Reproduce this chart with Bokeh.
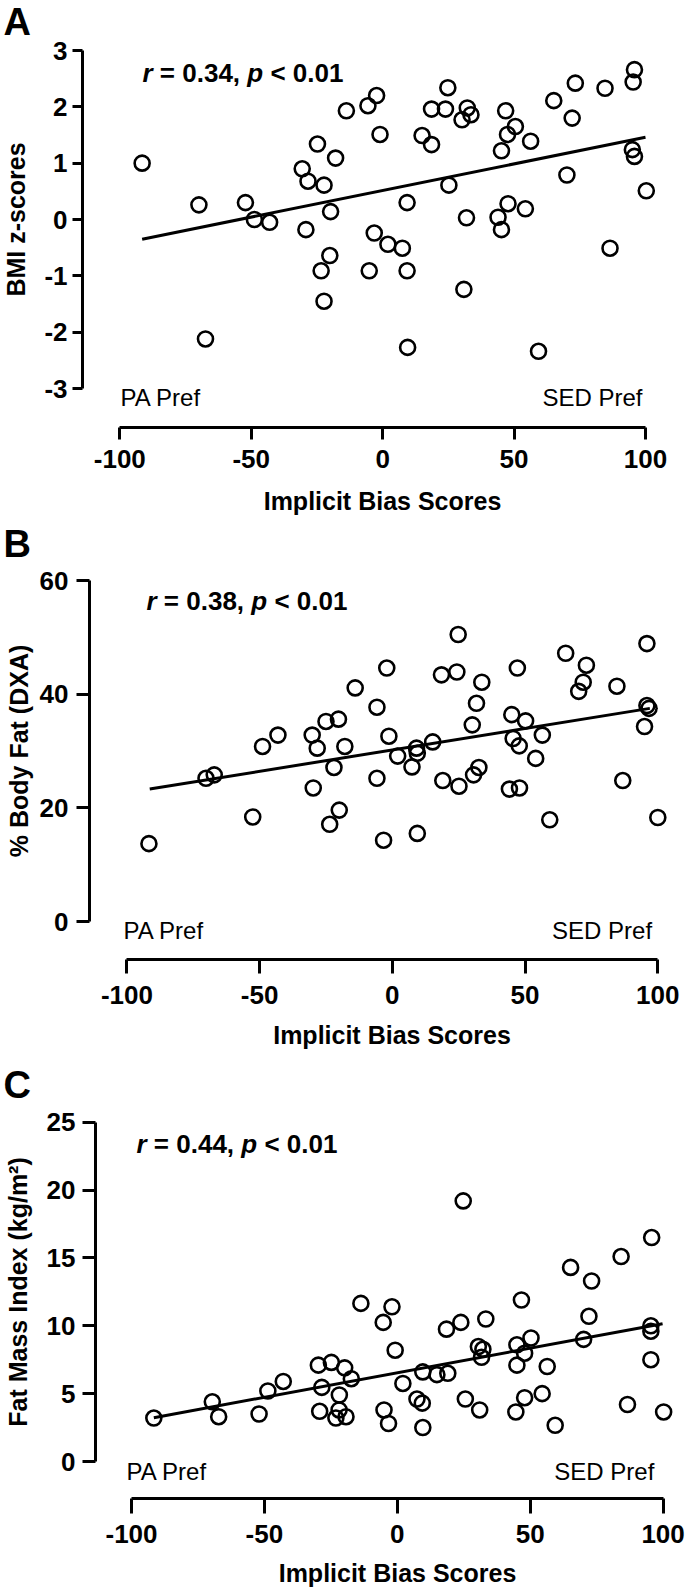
from bokeh.plotting import figure
from bokeh.models import Range1d, FixedTicker, Label
from bokeh.layouts import column
from bokeh.embed import file_html
from bokeh.resources import INLINE

FONT = "Liberation Sans"

# ---------------- data ----------------
x_ticks = [-100, -50, 0, 50, 100]
x_tick_labels = ["-100", "-50", "0", "50", "100"]
x_title = "Implicit Bias Scores"
pref_left_text = "PA Pref"
pref_right_text = "SED Pref"

# Panel A: BMI z-scores
a_x = [-91.5, -69.9, -67.4, -52.2, -48.8, -43.0, -30.6, -28.4, -29.2, -24.8,
       -22.3, -17.9, -19.8, -23.4, -20.1, -22.3, -13.8, -5.6, -2.3, -1.0,
       -3.2, -5.1, 2.0, 7.5, 9.3, 9.3, 9.5, 15.0, 18.6, 18.6,
       23.9, 24.8, 25.2, 30.2, 32.2, 33.6, 31.9, 30.9, 45.2, 46.8,
       47.5, 50.5, 56.3, 43.9, 45.2, 47.7, 54.3, 59.3, 65.1, 73.3,
       72.1, 70.1, 84.6, 86.5, 95.8, 95.3, 95.0, 95.8, 100.3]
a_y = [1.00, 0.26, -2.12, 0.30, 0.00, -0.05, 0.90, 0.68, -0.18, 1.34,
       0.61, 1.09, 0.14, -0.91, -0.64, -1.45, 1.93, 2.02, 2.20, 1.51,
       -0.24, -0.91, -0.44, -0.51, 0.30, -0.91, -2.27, 1.49, 1.33, 1.96,
       1.96, 2.34, 0.61, 1.77, 1.98, 1.86, 0.03, -1.24, 1.22, 1.93,
       1.51, 1.65, 1.39, 0.04, -0.18, 0.28, 0.19, -2.34, 2.11, 2.42,
       1.80, 0.79, 2.33, -0.51, 2.66, 2.44, 1.24, 1.12, 0.51]
a_fit_x = [-91.5, 100.0]
a_fit_y = [-0.35, 1.46]
a_y_ticks = [-3, -2, -1, 0, 1, 2, 3]
a_y_tick_labels = ["-3", "-2", "-1", "0", "1", "2", "3"]
a_y_title = "BMI z-scores"
a_stat = ["r", "= 0.34,", "p", "< 0.01"]

# Panel B: % body fat (DXA)
b_x = [-91.7, -70.2, -67.1, -52.6, -48.9, -43.1, -30.2, -28.3, -29.8, -25.0,
       -20.3, -22.0, -17.9, -20.0, -23.6, -14.0, -5.8, -5.8, -2.1, -1.3,
       -3.3, 2.0, 7.4, 9.1, 9.4, 9.4, 15.2, 18.5, 19.0, 24.3,
       24.8, 25.1, 30.1, 31.7, 33.7, 30.6, 32.6, 44.1, 47.9, 47.1,
       45.0, 50.2, 45.5, 47.8, 56.5, 54.0, 59.3, 65.3, 73.1, 71.9,
       70.2, 84.6, 86.8, 95.9, 95.9, 96.7, 95.0, 100.0]
b_y = [13.7, 25.2, 25.8, 18.4, 30.8, 32.8, 32.8, 30.5, 23.5, 35.2,
       35.6, 27.1, 30.8, 19.6, 17.1, 41.1, 37.7, 25.2, 44.6, 32.6,
       14.3, 29.1, 27.2, 30.5, 29.6, 15.5, 31.6, 43.4, 24.8, 43.9,
       50.5, 23.8, 34.6, 38.4, 42.1, 25.8, 27.1, 23.3, 23.5, 44.6,
       36.4, 35.3, 32.2, 30.9, 32.8, 28.7, 17.9, 47.2, 45.1, 42.1,
       40.5, 41.4, 24.8, 48.9, 38.0, 37.5, 34.3, 18.3]
b_fit_x = [-91.4, 97.0]
b_fit_y = [23.3, 37.5]
b_y_ticks = [0, 20, 40, 60]
b_y_tick_labels = ["0", "20", "40", "60"]
b_y_title = "% Body Fat (DXA)"
b_stat = ["r", "= 0.38,", "p", "< 0.01"]

# Panel C: fat mass index
c_x = [24.8, 95.7, 84.2, 65.2, 73.1, 46.7, -13.7, -2.0, 72.1, -5.3,
       23.9, 33.3, 18.5, 95.4, 95.4, 70.1, -0.8, 30.5, 32.2, 31.7,
       45.0, 50.3, 47.9, 45.0, 56.4, 95.4, -29.7, -24.8, -19.8, -17.3,
       -28.4, -42.9, -48.7, -69.6, -67.2, -91.6, -52.0, -29.2, -21.8, -21.9,
       -23.1, -19.3, 2.1, 9.6, 14.9, 19.0, -5.0, -3.3, 7.4, 9.4,
       9.6, 25.6, 31.0, 44.6, 47.9, 54.5, 59.4, 86.6, 100.2]
c_y = [19.2, 16.5, 15.1, 14.3, 13.3, 11.9, 11.65, 11.4, 10.7, 10.25,
       10.25, 10.5, 9.75, 10.0, 9.6, 9.0, 8.2, 8.47, 8.27, 7.68,
       8.6, 9.1, 7.98, 7.1, 7.0, 7.5, 7.1, 7.3, 6.9, 6.1,
       5.46, 5.9, 5.2, 4.4, 3.3, 3.2, 3.5, 3.7, 4.9, 3.8,
       3.2, 3.3, 5.75, 6.6, 6.4, 6.5, 3.8, 2.8, 4.6, 4.3,
       2.5, 4.6, 3.8, 3.65, 4.7, 5.0, 2.67, 4.2, 3.65]
c_fit_x = [-91.6, 99.8]
c_fit_y = [3.23, 10.15]
c_y_ticks = [0, 5, 10, 15, 20, 25]
c_y_tick_labels = ["0", "5", "10", "15", "20", "25"]
c_y_title = "Fat Mass Index (kg/m\u00b2)"
c_stat = ["r", "= 0.44,", "p", "< 0.01"]

# ---------------- layout (page pixels) ----------------
PAGE_W = 685
MARGIN = 0   # Bokeh's page template sets the body margin to 0


def make_panel(letter, xs, ys, fx, fy, yt, ytl, ytitle, stat, L):
    sx = (L["xp"] - L["xm"]) / 200.0
    ymax, ymin = yt[-1], yt[0]
    sy = (L["yp1"] - L["yp0"]) / float(ymax - ymin)

    def dx(px):
        return -100 + (px - L["xm"]) / sx

    def dy(py):
        return ymax - (py - L["yp0"]) / sy

    # the frame fills the whole canvas; axes are pinned inside it
    p = figure(width=PAGE_W, height=L["h"],
               x_range=Range1d(dx(MARGIN), dx(MARGIN + PAGE_W)),
               y_range=Range1d(dy(L["top"] + L["h"]), dy(L["top"])),
               output_backend="svg", toolbar_location=None,
               min_border=0, min_border_left=0, min_border_right=0,
               min_border_top=0, min_border_bottom=0)
    p.grid.visible = False
    p.outline_line_color = None
    p.background_fill_color = "white"
    p.border_fill_color = "white"

    for ax, ticks, labels, tl in ((p.xaxis[0], x_ticks, x_tick_labels, L["tx"]),
                                  (p.yaxis[0], yt, ytl, L["ty"])):
        ax.ticker = FixedTicker(ticks=ticks, minor_ticks=[])
        ax.major_label_overrides = {t: s for t, s in zip(ticks, labels)}
        ax.bounds = (ticks[0], ticks[-1])
        ax.axis_line_width = 3
        ax.axis_line_color = "black"
        ax.major_tick_line_width = 3
        ax.major_tick_line_color = "black"
        ax.major_tick_in = 0
        ax.major_tick_out = tl
        ax.minor_tick_line_color = None
        ax.major_label_text_font = FONT
        ax.major_label_text_font_style = "bold"
        ax.major_label_text_font_size = "26px"
        ax.major_label_text_color = "black"
        ax.axis_label_text_font = FONT
        ax.axis_label_text_font_style = "bold"
        ax.axis_label_text_font_size = "25px"
        ax.axis_label_text_color = "black"
    p.xaxis.axis_label = x_title
    p.yaxis.axis_label = ytitle
    p.xaxis.fixed_location = dy(L["fb"])
    p.yaxis.fixed_location = dx(L["fl"])
    p.xaxis.major_label_standoff = L["xls"]
    p.xaxis.axis_label_standoff = L["xts"]
    p.yaxis.major_label_standoff = L["yls"]
    p.yaxis.axis_label_standoff = L["yts"]

    p.line(fx, fy, line_color="black", line_width=3)
    p.scatter(xs, ys, marker="circle", size=15, fill_color=None,
              line_color="black", line_width=2.6)

    # panel letter
    p.add_layout(Label(x=dx(L["lx"]), y=dy(L["ly"]), text=letter,
                       text_font=FONT, text_font_style="bold",
                       text_font_size="38px", text_color="black",
                       text_baseline="middle", text_align="left"))
    # statistics text, mixed italic
    fs = 26
    offs = [0, (0.389 + 0.278) * fs]
    offs.append(offs[1] + (3.086 + 0.278) * fs)
    offs.append(offs[2] + (0.611 + 0.278) * fs)
    styles = ["bold italic", "bold", "bold italic", "bold"]
    for t, o, st in zip(stat, offs, styles):
        p.add_layout(Label(x=dx(L["sx"]), y=dy(L["sy"]), x_offset=o, text=t,
                           text_font=FONT, text_font_style=st,
                           text_font_size="%dpx" % fs, text_color="black",
                           text_baseline="middle", text_align="left"))
    # preference labels
    p.add_layout(Label(x=dx(L["pl"]), y=dy(L["py"]), text=pref_left_text,
                       text_font=FONT, text_font_size="24px", text_color="black",
                       text_baseline="middle", text_align="left"))
    p.add_layout(Label(x=dx(L["pr"]), y=dy(L["py"]), text=pref_right_text,
                       text_font=FONT, text_font_size="24px", text_color="black",
                       text_baseline="middle", text_align="right"))
    return p


LA = dict(top=0, h=520, fl=82, fb=427, xm=119.3, xp=645.0,
          yp0=50, yp1=388, tx=12, ty=10, xls=10, xts=16, yls=5, yts=11,
          lx=3, ly=21, sx=142, sy=72, py=397, pl=120, pr=642)
LB = dict(top=520, h=542, fl=89, fb=959, xm=126.4, xp=657.3,
          yp0=580, yp1=921, tx=14, ty=13, xls=12, xts=14, yls=8, yts=4,
          lx=3, ly=543, sx=146, sy=600, py=930, pl=123, pr=651.6)
LC = dict(top=1062, h=527, fl=95, fb=1498, xm=131.0, xp=662.6,
          yp0=1121.7, yp1=1461, tx=15, ty=13, xls=11, xts=13, yls=7, yts=12,
          lx=3, ly=1084, sx=136, sy=1143, py=1470.7, pl=126, pr=653.8)

pa = make_panel("A", a_x, a_y, a_fit_x, a_fit_y, a_y_ticks, a_y_tick_labels,
                a_y_title, a_stat, LA)
pb = make_panel("B", b_x, b_y, b_fit_x, b_fit_y, b_y_ticks, b_y_tick_labels,
                b_y_title, b_stat, LB)
pc = make_panel("C", c_x, c_y, c_fit_x, c_fit_y, c_y_ticks, c_y_tick_labels,
                c_y_title, c_stat, LC)

layout = column(pa, pb, pc, spacing=0)
open("out.html", "w").write(file_html(layout, INLINE))
